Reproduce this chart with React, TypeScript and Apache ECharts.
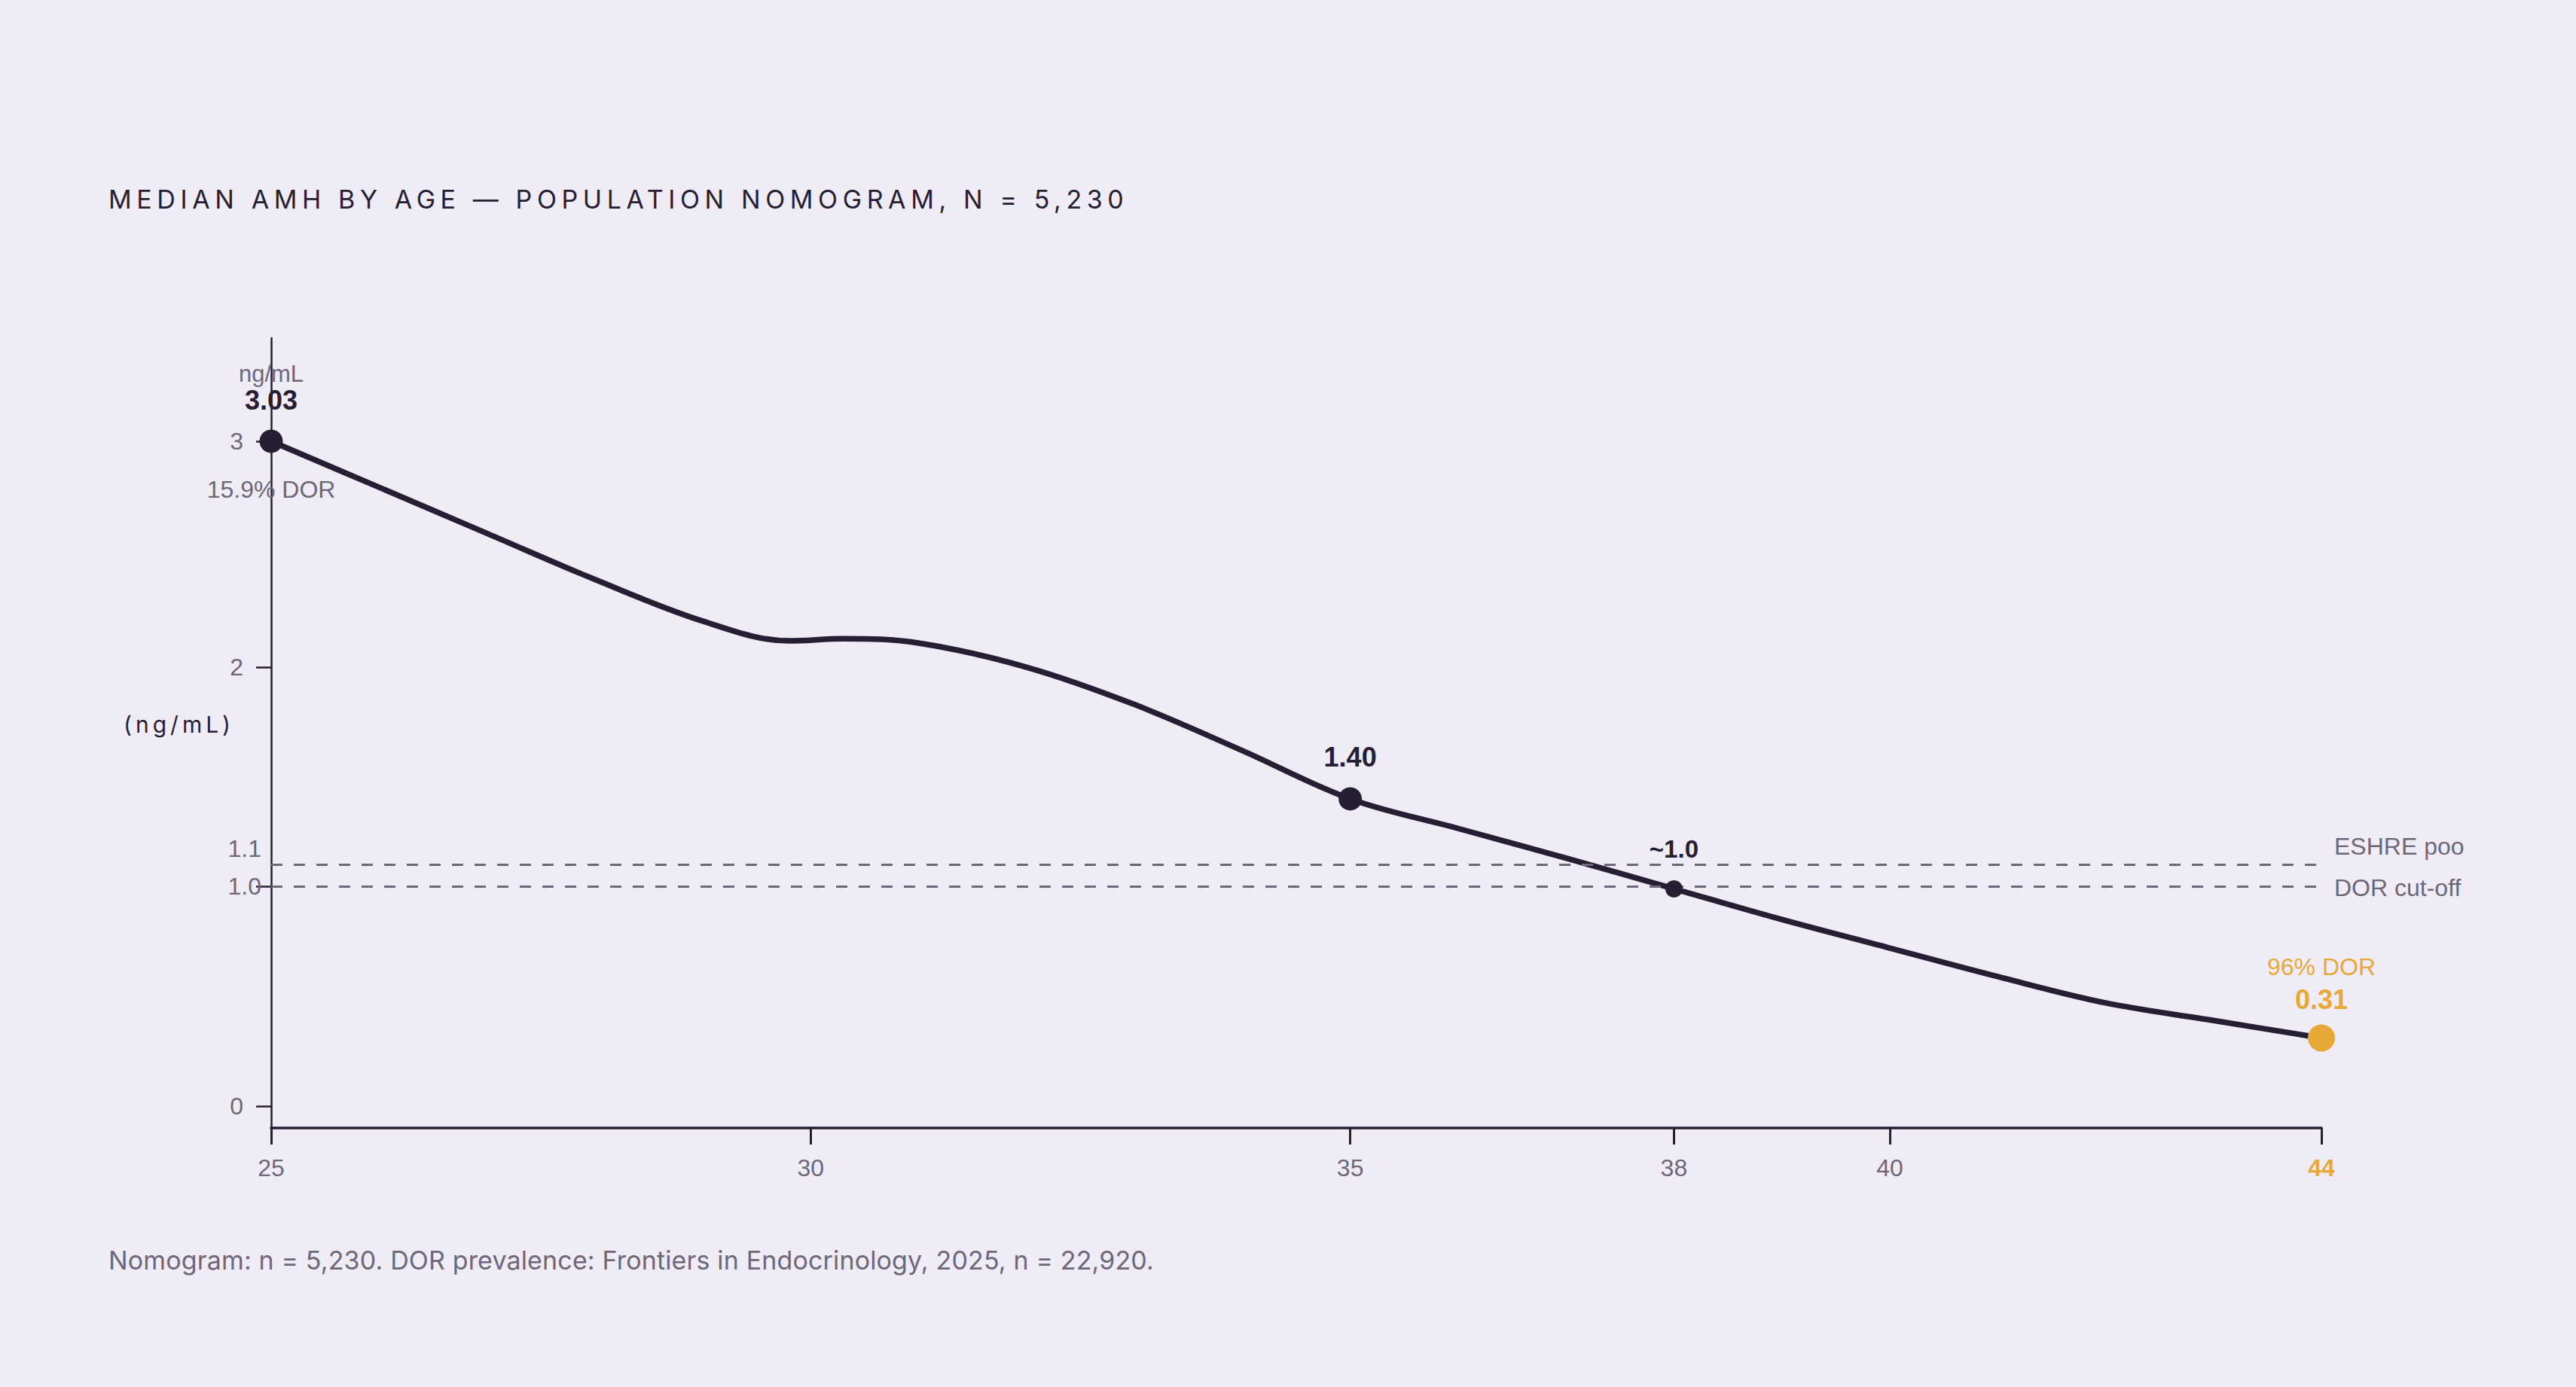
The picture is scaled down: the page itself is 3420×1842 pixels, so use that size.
import React, { useEffect, useRef } from 'react';
import * as echarts from 'echarts';

// ---------- texts ----------
const TITLE = 'MEDIAN AMH BY AGE — POPULATION NOMOGRAM, N = 5,230';
const FOOTNOTE = 'Nomogram: n = 5,230. DOR prevalence: Frontiers in Endocrinology, 2025, n = 22,920.';
const Y_NAME = '(ng/mL)';
const UNIT = 'ng/mL';

// ---------- data ----------
const ages = [25, 26, 27, 28, 29, 29.8, 30.3, 31, 32, 33, 34, 35, 36, 37, 38, 39, 40, 41, 42, 43, 44];
const medianAmh = [3.03, 2.82, 2.61, 2.4, 2.21, 2.12, 2.13, 2.11, 2.0, 1.83, 1.62, 1.4, 1.265, 1.13, 0.99, 0.85, 0.72, 0.59, 0.47, 0.39, 0.31];

const keyAges = [25, 35, 38, 44];
const keyValues = [3.03, 1.4, 0.99, 0.31];
const keyLabels = ['3.03', '1.40', '~1.0', '0.31'];
const dorPrevalenceLabels = ['15.9% DOR', '96% DOR'];

const xTickValues = [25, 30, 35, 38, 40, 44];
const yLabelValues = [0, 2, 3.03];
const yTickValues = [0, 1, 2, 3.03];

const thresholdValues = [1.1, 1.0];
const thresholdTickLabels = ['1.1', '1.0'];
const thresholdNames = ['ESHRE poo', 'DOR cut-off'];

// ---------- styles ----------
const BG = '#efecf6';
const INK = '#261e33';
const GREY = '#6e6779';
const ORANGE = '#e8a838';
const SANS = '"Liberation Sans", Arial, sans-serif';
const DISPLAY = 'Inter, "Noto Sans", sans-serif';

const spacing: Record<string, string> = {
  [TITLE]: '6.6px',
  [Y_NAME]: '5px',
  [FOOTNOTE]: '0.15px',
};

export default function App() {
  const ref = useRef<HTMLDivElement>(null);

  useEffect(() => {
    const el = ref.current as HTMLDivElement;
    const chart = echarts.init(el, null, { renderer: 'svg' });

    const lineData = ages.map((a, i) => [a, medianAmh[i]]);

    const keySizes = [31, 31, 23, 36];
    const keyColors = [INK, INK, INK, ORANGE];
    const keyDistances = [21, 22, 23, 11];
    const keyFormatters = [
      `{u|${UNIT}}\n{v|${keyLabels[0]}}`,
      `{v|${keyLabels[1]}}`,
      `{s|${keyLabels[2]}}`,
      `{o|${dorPrevalenceLabels[1]}}\n{ob|${keyLabels[3]}}`,
    ];

    const keyData = keyAges.map((a, i) => ({
      value: [a, keyValues[i]],
      symbolSize: keySizes[i],
      itemStyle: { color: keyColors[i], opacity: 1 },
      label: {
        show: true,
        opacity: 1,
        position: 'top',
        distance: keyDistances[i],
        formatter: keyFormatters[i],
        rich: {
          u: { fontFamily: SANS, fontSize: 31, color: GREY, lineHeight: 35 },
          v: { fontFamily: SANS, fontSize: 36, fontWeight: 'bold', color: INK, lineHeight: 35 },
          s: { fontFamily: SANS, fontSize: 33, fontWeight: 'bold', color: INK, lineHeight: 36 },
          o: { fontFamily: SANS, fontSize: 32, color: ORANGE, lineHeight: 44 },
          ob: { fontFamily: SANS, fontSize: 36, fontWeight: 'bold', color: ORANGE, lineHeight: 44 },
        },
      },
    }));

    const markData: any[] = [];
    thresholdValues.forEach((v, i) => {
      markData.push({
        yAxis: v,
        lineStyle: { color: GREY, width: 3, type: [15, 15], opacity: 1 },
        label: {
          show: true,
          position: 'start',
          distance: 13,
          offset: [0, i === 0 ? -21 : 0],
          formatter: thresholdTickLabels[i],
          fontFamily: SANS,
          fontSize: 32,
          color: GREY,
        },
      });
      markData.push({
        yAxis: v,
        lineStyle: { color: 'rgba(0,0,0,0)', width: 1, opacity: 1 },
        label: {
          show: true,
          position: 'end',
          distance: 17,
          offset: [0, i === 0 ? -24 : 2],
          formatter: thresholdNames[i],
          fontFamily: SANS,
          fontSize: 32,
          color: GREY,
        },
      });
    });

    const option: any = {
      animation: false,
      backgroundColor: BG,
      grid: { left: 360, right: 338, top: 449, bottom: 344, containLabel: false },
      xAxis: {
        type: 'value',
        min: 25,
        max: 44,
        splitLine: { show: false },
        axisLine: { show: true, onZero: false, lineStyle: { color: INK, width: 3.5 } },
        axisTick: {
          show: true,
          customValues: xTickValues,
          length: 22,
          inside: false,
          lineStyle: { color: INK, width: 3 },
        },
        axisLabel: {
          show: true,
          customValues: xTickValues,
          margin: 37,
          fontFamily: SANS,
          fontSize: 32,
          color: GREY,
          formatter: (v: number) => (v === xTickValues[xTickValues.length - 1] ? `{hl|${v}}` : `${v}`),
          rich: {
            hl: { fontFamily: SANS, fontSize: 32, fontWeight: 'bold', color: ORANGE },
          },
        },
      },
      yAxis: {
        type: 'value',
        min: -0.1,
        max: 3.5,
        splitLine: { show: false },
        axisLine: { show: true, onZero: false, lineStyle: { color: INK, width: 2.5 } },
        axisTick: {
          show: true,
          customValues: yTickValues,
          length: 20,
          inside: false,
          lineStyle: { color: INK, width: 2.5 },
        },
        axisLabel: {
          show: true,
          customValues: yLabelValues,
          margin: 37,
          fontFamily: SANS,
          fontSize: 32,
          color: GREY,
          formatter: (v: number) => `${Math.round(v)}`,
        },
      },
      graphic: [
        {
          type: 'text',
          x: 144,
          y: 264,
          style: {
            text: TITLE,
            font: `400 34px ${DISPLAY}`,
            fill: INK,
            textAlign: 'left',
            textVerticalAlign: 'middle',
          },
        },
        {
          type: 'text',
          x: 164,
          y: 962,
          style: {
            text: Y_NAME,
            font: `400 30px ${DISPLAY}`,
            fill: INK,
            textAlign: 'left',
            textVerticalAlign: 'middle',
          },
        },
        {
          type: 'text',
          x: 144,
          y: 1673,
          style: {
            text: FOOTNOTE,
            font: `400 34px ${DISPLAY}`,
            fill: GREY,
            textAlign: 'left',
            textVerticalAlign: 'middle',
          },
        },
      ],
      series: [
        {
          type: 'line',
          name: 'thresholds',
          z: 1,
          data: lineData,
          showSymbol: false,
          symbol: 'none',
          lineStyle: { color: 'rgba(0,0,0,0)', width: 1 },
          silent: true,
          markLine: {
            silent: true,
            symbol: ['none', 'none'],
            data: markData,
          },
        },
        {
          type: 'line',
          name: 'Median AMH',
          z: 3,
          data: lineData,
          smooth: 0.35,
          showSymbol: false,
          symbol: 'none',
          clip: false,
          lineStyle: { color: INK, width: 7.5, cap: 'round', join: 'round', opacity: 1 },
        },
        {
          type: 'scatter',
          name: 'key ages',
          z: 5,
          clip: false,
          itemStyle: { opacity: 1 },
          data: keyData,
        },
        {
          type: 'scatter',
          name: 'DOR at 25',
          z: 4,
          clip: false,
          symbolSize: keySizes[0],
          itemStyle: { color: 'rgba(0,0,0,0)', opacity: 1 },
          data: [
            {
              value: [keyAges[0], keyValues[0]],
              label: {
                show: true,
                opacity: 1,
                position: 'bottom',
                distance: 31,
                formatter: dorPrevalenceLabels[0],
                fontFamily: SANS,
                fontSize: 32,
                color: GREY,
                lineHeight: 36,
              },
            },
          ],
        },
      ],
    };

    chart.setOption(option);

    const applySpacing = () => {
      el.querySelectorAll('text').forEach((t) => {
        const s = spacing[t.textContent || ''];
        if (s) {
          t.setAttribute('letter-spacing', s);
          (t as SVGTextElement).style.letterSpacing = s;
        }
      });
    };
    applySpacing();
    chart.on('finished', applySpacing);
    const timer = setTimeout(applySpacing, 60);

    return () => {
      clearTimeout(timer);
      chart.dispose();
    };
  }, []);

  return (
    <div
      ref={ref}
      style={{ position: 'absolute', left: 0, top: 0, width: 3420, height: 1842, background: BG }}
    />
  );
}
